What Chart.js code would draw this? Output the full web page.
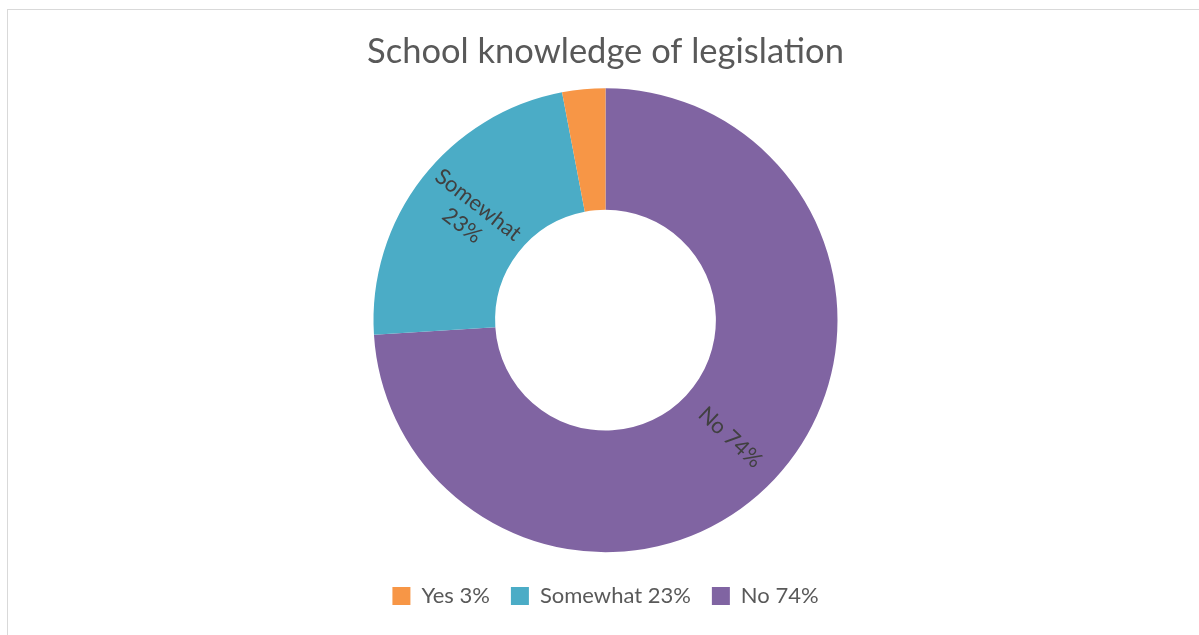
<!DOCTYPE html>
<html>
<head>
<meta charset="utf-8">
<title>School knowledge of legislation</title>
<script src="https://cdn.jsdelivr.net/npm/chart.js@4.4.1/dist/chart.umd.min.js"></script>
<style>
    html, body { margin: 0; padding: 0; background: #fff; }
    #wrap { position: relative; width: 1199px; height: 635px; }
    #frame {
        position: absolute; left: 7px; top: 9px; right: 0; bottom: 0;
        border-top: 1px solid #d9d9d9; border-left: 1px solid #d9d9d9;
    }
    #chart { position: absolute; left: 0; top: 0; }
</style>
</head>
<body>
<div id="wrap">
    <div id="frame"></div>
    <canvas id="chart" width="1199" height="635"></canvas>
</div>
<script>
// legend order
const categories = ['Yes', 'Somewhat', 'No'];
const shares = [3, 23, 74];
const colours = ['#f79646', '#4bacc6', '#8064a2'];

// the ring is drawn clockwise from the top starting with "No"
const drawOrder = [2, 1, 0];

const labelText = i => categories[i] + ' ' + shares[i] + '%';

const FONT = 'Lato, "Open Sans", sans-serif';

// slice labels, turned along the slice's middle angle
const sliceLabels = {
    id: 'sliceLabels',
    afterDatasetsDraw(chart) {
        const ctx = chart.ctx;
        const meta = chart.getDatasetMeta(0);
        ctx.save();
        ctx.font = '22px ' + FONT;
        ctx.fillStyle = '#404040';
        ctx.textAlign = 'center';
        ctx.textBaseline = 'middle';
        meta.data.forEach((arc, k) => {
            const i = drawOrder[k];
            if (categories[i] === 'Yes') return;   // too thin for a label
            const mid = (arc.startAngle + arc.endAngle) / 2;
            const r = (arc.innerRadius + arc.outerRadius) / 2;
            const x = arc.x + Math.cos(mid) * r;
            const y = arc.y + Math.sin(mid) * r;
            let rot = mid;
            while (rot > Math.PI / 2) rot -= Math.PI;
            while (rot < -Math.PI / 2) rot += Math.PI;
            ctx.save();
            ctx.translate(x, y);
            ctx.rotate(rot);
            if (categories[i] === 'Somewhat') {
                ctx.fillText(categories[i], 0, -13);
                ctx.fillText(shares[i] + '%', 0, 13);
            } else {
                ctx.fillText(labelText(i), 0, 0);
            }
            ctx.restore();
        });
        ctx.restore();
    }
};

new Chart(document.getElementById('chart'), {
    type: 'doughnut',
    data: {
        labels: drawOrder.map(labelText),
        datasets: [{
            data: drawOrder.map(i => shares[i]),
            backgroundColor: drawOrder.map(i => colours[i]),
            borderWidth: 0,
            radius: 232,
            cutout: 116
        }]
    },
    options: {
        responsive: false,
        animation: false,
        layout: { padding: { top: 0, bottom: 18, left: 12 } },
        plugins: {
            title: {
                display: true,
                text: 'School knowledge of legislation',
                color: '#595959',
                font: { family: FONT, size: 34.5, weight: 'normal' },
                padding: { top: 31, bottom: 4 }
            },
            legend: {
                position: 'bottom',
                reverse: true,
                labels: {
                    color: '#595959',
                    font: { family: FONT, size: 22 },
                    boxWidth: 18,
                    boxHeight: 18,
                    padding: 21
                }
            },
            tooltip: { enabled: false }
        }
    },
    plugins: [sliceLabels]
});
</script>
</body>
</html>
